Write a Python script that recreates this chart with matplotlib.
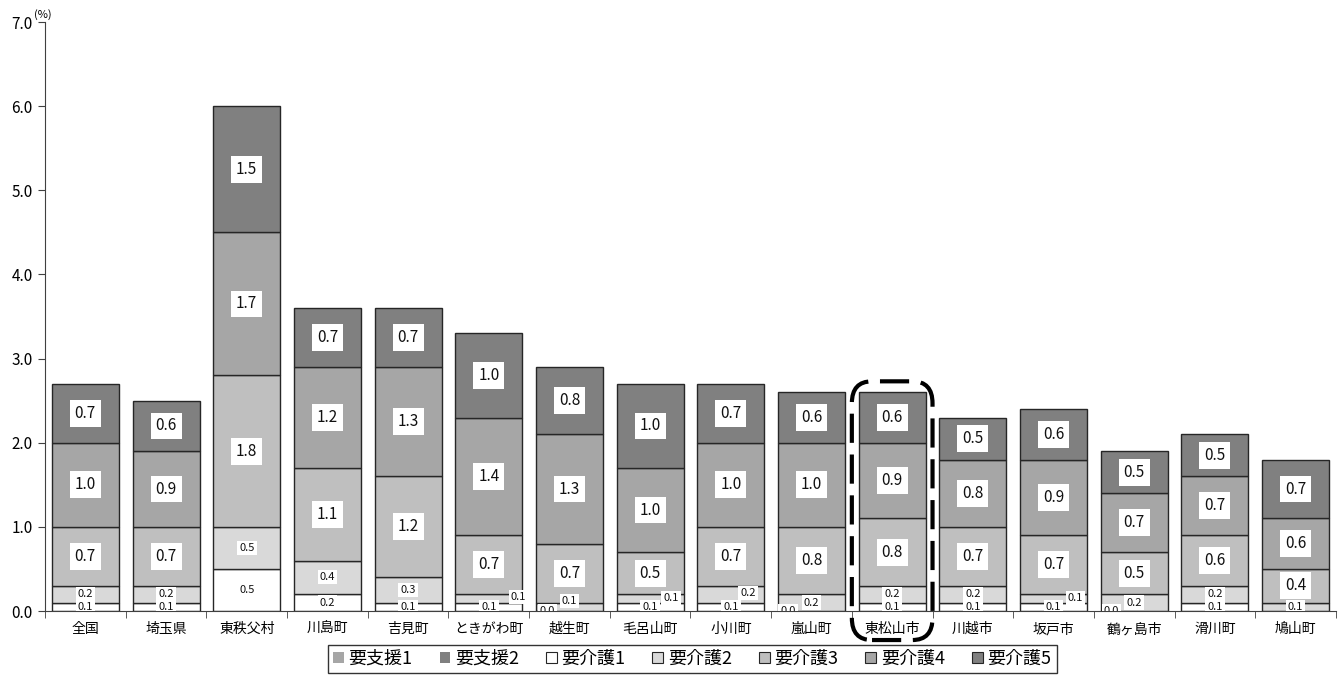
import matplotlib
matplotlib.use("Agg")
import matplotlib.pyplot as plt
import numpy as np
from matplotlib.patches import FancyBboxPatch

plt.rcParams["font.family"] = ["Noto Sans CJK JP", "DejaVu Sans"]

CATEGORIES = ["全国", "埼玉県", "東秩父村", "川島町", "吉見町", "ときがわ町", "越生町", "毛呂山町",
              "小川町", "嵐山町", "東松山市", "川越市", "坂戸市", "鶴ヶ島市", "滑川町", "鳩山町"]
SERIES = ["要支援1", "要支援2", "要介護1", "要介護2", "要介護3", "要介護4", "要介護5"]

SHIEN1 = [0.0] * 16
SHIEN2 = [0.0] * 16
KAIGO1 = [0.1, 0.1, 0.5, 0.2, 0.1, 0.1, 0.0, 0.1, 0.1, 0.0, 0.1, 0.1, 0.1, 0.0, 0.1, np.nan]
KAIGO2 = [0.2, 0.2, 0.5, 0.4, 0.3, 0.1, 0.1, 0.1, 0.2, 0.2, 0.2, 0.2, 0.1, 0.2, 0.2, 0.1]
KAIGO3 = [0.7, 0.7, 1.8, 1.1, 1.2, 0.7, 0.7, 0.5, 0.7, 0.8, 0.8, 0.7, 0.7, 0.5, 0.6, 0.4]
KAIGO4 = [1.0, 0.9, 1.7, 1.2, 1.3, 1.4, 1.3, 1.0, 1.0, 1.0, 0.9, 0.8, 0.9, 0.7, 0.7, 0.6]
KAIGO5 = [0.7, 0.6, 1.5, 0.7, 0.7, 1.0, 0.8, 1.0, 0.7, 0.6, 0.6, 0.5, 0.6, 0.5, 0.5, 0.7]

HIGHLIGHT = "東松山市"

COLORS = ["#a6a6a6", "#808080", "#ffffff", "#d9d9d9", "#bfbfbf", "#a6a6a6", "#808080"]

# manual label nudges (category index, series index) -> (dx, dy) in data units
LABEL_SHIFT = {
    (5, 3): (0.37, 0.02),
    (6, 2): (-0.27, -0.0),
    (6, 3): (0.0, 0.07),
    (7, 3): (0.26, 0.0),
    (8, 3): (0.21, 0.01),
    (9, 2): (-0.29, -0.0),
    (12, 3): (0.27, 0.0),
    (13, 2): (-0.28, -0.0),
}

data = [SHIEN1, SHIEN2, KAIGO1, KAIGO2, KAIGO3, KAIGO4, KAIGO5]

fig = plt.figure(figsize=(13.44, 6.75), dpi=100)
ax = fig.add_axes([0.0335, 0.0948, 0.9605, 0.8725])

x = np.arange(len(CATEGORIES))
bottom = np.zeros(len(CATEGORIES))
width = 0.83
for si, (name, vals, col) in enumerate(zip(SERIES, data, COLORS)):
    vals = np.array(vals, dtype=float)
    h = np.nan_to_num(vals)
    lw = 0 if si < 2 else 1.0
    ax.bar(x, h, width, bottom=bottom, color=col, edgecolor="#262626",
           linewidth=lw, label=name, zorder=2)
    if si >= 2:
        for i, v in enumerate(vals):
            if np.isnan(v):
                continue
            dx, dy = LABEL_SHIFT.get((i, si), (0.0, 0.0))
            ly = bottom[i] + h[i] / 2 + dy
            if v == 0:
                ly = 0.0
            small = si < 4
            fs = 8 if small else 11
            ax.text(x[i] + dx, ly, f"{v:.1f}", ha="center", va="center",
                    fontsize=fs, color="#111111", zorder=4, clip_on=True,
                    bbox=dict(facecolor="white", edgecolor="none",
                              pad=1.5 if small else 3.5))
    bottom += h

ax.set_xlim(-0.5, len(CATEGORIES) - 0.5)
ax.set_ylim(0, 7.0)
ax.set_yticks(np.arange(0, 7.01, 1.0))
ax.set_yticklabels([f"{v:.1f}" for v in np.arange(0, 7.01, 1.0)], fontsize=11)
ax.set_xticks(x)
ax.set_xticklabels(CATEGORIES, fontsize=10)
ax.tick_params(axis="x", length=0, pad=8)
ax.set_xticks(np.arange(-0.5, len(CATEGORIES), 1.0), minor=True)
ax.tick_params(axis="x", which="minor", length=5, direction="out", color="#404040")
ax.tick_params(axis="y", length=5, direction="out", color="#404040", pad=4)
for s in ["top", "right"]:
    ax.spines[s].set_visible(False)
ax.spines["left"].set_color("#404040")
ax.spines["bottom"].set_color("#404040")

ax.text(-0.64, 7.02, "(%)", fontsize=8, ha="left", va="bottom",
        transform=ax.transData, clip_on=False)

# dashed rounded frame around highlighted city
hi = CATEGORIES.index(HIGHLIGHT)
frame = FancyBboxPatch((hi - 0.5, -0.345), 1.0, 2.73 + 0.345,
                       boxstyle="round,pad=0,rounding_size=0.25",
                       mutation_aspect=84.1 / 80.6,
                       fill=False, edgecolor="black", linewidth=3,
                       linestyle=(0, (7, 2.8)), clip_on=False, zorder=5)
ax.add_patch(frame)

handles, labels = ax.get_legend_handles_labels()
leg = fig.legend(handles, labels, loc="upper center", bbox_to_anchor=(0.515, 0.045),
                 ncol=7, fontsize=13, frameon=True, fancybox=False,
                 handlelength=0.6, handleheight=0.6, handletextpad=0.25,
                 columnspacing=1.5, borderpad=0.3, borderaxespad=0)
leg.get_frame().set_edgecolor("black")
leg.get_frame().set_linewidth(1.0)
for h in leg.legend_handles[2:]:
    h.set_linewidth(0.8)

fig.savefig("out.png", dpi=100)
